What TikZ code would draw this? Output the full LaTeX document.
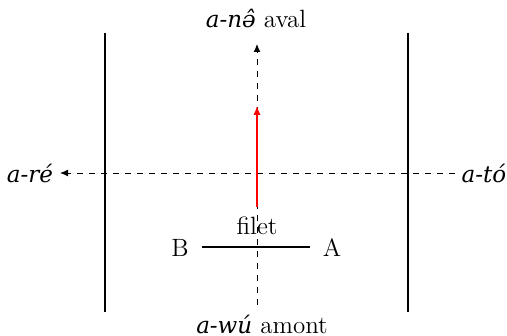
\documentclass[tikz,border=0pt]{standalone}
\usepackage{fontspec}
\newfontfamily\itf{DejaVu Serif}[Scale=0.92]
\usetikzlibrary{arrows.meta}
\tikzset{
  axis/.style={dashed, line width=0.5pt, -{Latex[length=4pt,width=3.5pt]}},
  wall/.style={line width=0.9pt},
  flow/.style={red, line width=0.6pt, -{Latex[length=4.5pt,width=3.6pt]}},
  lbl/.style={inner sep=1pt, font=\fontsize{12.5}{14}\selectfont},
  it/.style={font=\fontsize{12.5}{14}\itf\itshape}
}
\begin{document}
\begin{tikzpicture}[x=0.5pt,y=-0.5pt]
\useasboundingbox (0,0) rectangle (507,336);
% labels
\node[lbl] (top) at (256,18) {{\itf\itshape a-nə̂} aval};
\node[lbl] (bot) at (262,324) {{\itf\itshape a-wú} amont};
\node[lbl,it] (left) at (30,173) {a-ré};
\node[lbl,it] (right) at (484,173) {a-tó};
% coordinates
\coordinate (vt) at (257,44);
\coordinate (vb) at (257,305);
\coordinate (hl) at (60,173);
\coordinate (hr) at (455,173);
\coordinate (w1t) at (105,33);
\coordinate (w1b) at (105,312);
\coordinate (w2t) at (408,33);
\coordinate (w2b) at (408,312);
\coordinate (rs) at (257,207);
\coordinate (re) at (257,106);
% axes
\draw[axis] (vb) -- (vt);
\draw[axis] (hr) -- (hl);
% walls
\draw[wall] (w1t) -- (w1b);
\draw[wall] (w2t) -- (w2b);
% red arrow
\draw[flow] (rs) -- (re);
% filet
\node[lbl] (B) at (180,248) {B};
\node[lbl] (A) at (332,248) {A};
\coordinate (fb) at (202,247);
\coordinate (fa) at (310,247);
\draw[wall] (fb) -- (fa);
\node[lbl] (filet) at (257,226) {filet};
\end{tikzpicture}
\end{document}
